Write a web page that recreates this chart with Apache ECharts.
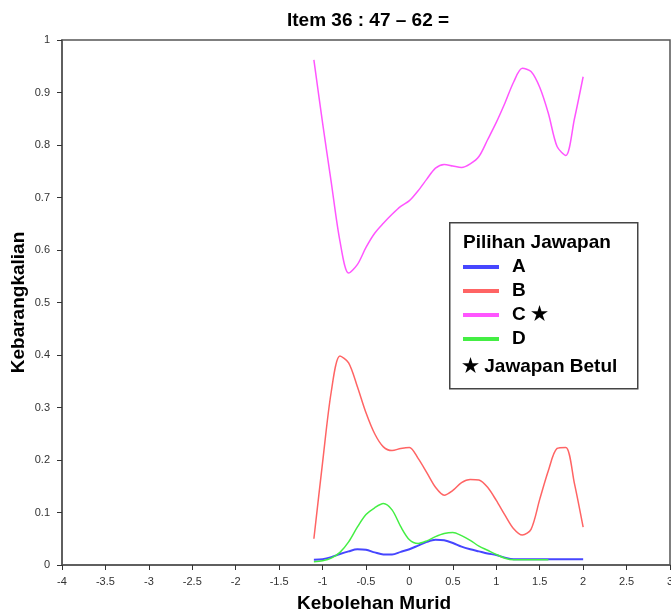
<!DOCTYPE html>
<html>
<head>
<meta charset="utf-8">
<script src="https://cdn.jsdelivr.net/npm/echarts@6/dist/echarts.min.js"></script>
<style>
  html, body { margin: 0; padding: 0; background: #fff; }
  #chart { width: 671px; height: 610px; }
</style>
</head>
<body>
<div id="chart"></div>
<script>
// kebolehan murid (theta) points
const xs = [-1.1, -1.0, -0.9, -0.8, -0.7, -0.6, -0.5, -0.4, -0.3, -0.2, -0.1, 0.0,
            0.1, 0.2, 0.3, 0.4, 0.5, 0.6, 0.7, 0.8, 0.9, 1.0, 1.1, 1.2,
            1.3, 1.4, 1.5, 1.6, 1.7, 1.8, 1.9, 2.0];

const seriesA = [0.010, 0.011, 0.015, 0.021, 0.026, 0.030, 0.029, 0.024, 0.020, 0.020, 0.025, 0.030,
                 0.037, 0.044, 0.048, 0.047, 0.042, 0.035, 0.030, 0.026, 0.022, 0.019, 0.014, 0.011,
                 0.011, 0.011, 0.011, 0.011, 0.011, 0.011, 0.011, 0.011];
const seriesB = [0.050, 0.195, 0.330, 0.398, 0.385, 0.340, 0.290, 0.250, 0.225, 0.218, 0.222, 0.224,
                 0.203, 0.176, 0.148, 0.133, 0.142, 0.157, 0.163, 0.162, 0.148, 0.123, 0.095, 0.069,
                 0.057, 0.068, 0.125, 0.180, 0.222, 0.224, 0.155, 0.072];
const seriesC = [0.962, 0.842, 0.729, 0.617, 0.556, 0.572, 0.605, 0.632, 0.651, 0.668, 0.683, 0.694,
                 0.713, 0.735, 0.756, 0.763, 0.760, 0.757, 0.764, 0.778, 0.810, 0.843, 0.880, 0.920,
                 0.946, 0.940, 0.910, 0.860, 0.797, 0.780, 0.850, 0.930];
const seriesD = [0.006, 0.008, 0.013, 0.024, 0.044, 0.072, 0.096, 0.109, 0.117, 0.105, 0.073, 0.048,
                 0.041, 0.046, 0.054, 0.060, 0.062, 0.056, 0.047, 0.036, 0.028, 0.020, 0.013, 0.010,
                 0.010, 0.010, 0.010, 0.010, null, null, null, null];

const names = ['A', 'B', 'C \u2605', 'D'];
const colors = ['#4646ff', '#ff6464', '#ff55ff', '#44ee44'];

const pairs = ys => xs.map((x, i) => [x, ys[i]]);

const chart = echarts.init(document.getElementById('chart'));
const font = 'Liberation Sans, Arial, sans-serif';

const makeLine = (idx, data, width) => ({
    name: names[idx],
    type: 'line',
    data: pairs(data),
    smooth: 0.3,
    showSymbol: false,
    symbol: 'none',
    connectNulls: false,
    color: colors[idx],
    lineStyle: { color: colors[idx], width: width },
    silent: true
});

chart.setOption({
    backgroundColor: '#fff',
    animation: false,
    title: {
        text: 'Item 36 : 47 \u2013 62 =',
        left: 287,
        top: 11,
        padding: 0,
        textStyle: { fontFamily: font, fontSize: 19, fontWeight: 'bold', color: '#000' }
    },
    legend: {
        data: names,
        orient: 'vertical',
        left: 463,
        top: 257,
        z: 100,
        padding: 0,
        itemWidth: 36,
        itemHeight: 4,
        itemGap: 4,
        icon: 'rect',
        textStyle: {
            fontFamily: font, fontSize: 19, fontWeight: 'bold', color: '#000',
            lineHeight: 20, padding: [0, 0, 0, 8]
        }
    },
    grid: {
        left: 62, right: 1, top: 40, bottom: 45,
        outerBoundsMode: 'none',
        containLabel: false,
        show: true, borderColor: '#555', borderWidth: 1.5, backgroundColor: '#fff'
    },
    xAxis: {
        type: 'value',
        min: -4, max: 3, interval: 0.5,
        name: 'Kebolehan Murid',
        nameLocation: 'middle',
        nameGap: 29,
        nameTextStyle: { fontFamily: font, fontSize: 19, fontWeight: 'bold', color: '#000', padding: [0, 0, 0, 16] },
        axisLine: { onZero: false, lineStyle: { color: '#555', width: 1.5 } },
        axisTick: { length: 5, lineStyle: { color: '#333' } },
        axisLabel: { fontFamily: font, fontSize: 11, color: '#333', margin: 11 },
        splitLine: { show: false }
    },
    yAxis: {
        type: 'value',
        min: 0, max: 1, interval: 0.1,
        name: 'Kebarangkalian',
        nameLocation: 'middle',
        nameGap: 34,
        nameMoveOverlap: false,
        nameTextStyle: { fontFamily: font, fontSize: 19, fontWeight: 'bold', color: '#000' },
        axisLine: { show: true, onZero: false, lineStyle: { color: '#555', width: 1.5 } },
        axisTick: { show: true, length: 5, lineStyle: { color: '#333' } },
        axisLabel: { fontFamily: font, fontSize: 11, color: '#333', margin: 12 },
        splitLine: { show: false }
    },
    graphic: [
        {
            type: 'rect', left: 449, top: 222, z: 50,
            shape: { width: 188, height: 166 },
            style: { fill: '#fff', stroke: '#444', lineWidth: 1.5 }
        },
        {
            type: 'text', left: 463, top: 233, z: 60,
            style: { text: 'Pilihan Jawapan', fill: '#000', font: 'bold 19px ' + font }
        },
        {
            type: 'text', left: 462, top: 357, z: 60,
            style: { text: '\u2605 Jawapan Betul', fill: '#000', font: 'bold 19px ' + font }
        }
    ],
    series: [
        makeLine(0, seriesA, 2),
        makeLine(1, seriesB, 1.5),
        makeLine(2, seriesC, 1.5),
        makeLine(3, seriesD, 1.5)
    ]
});
</script>
</body>
</html>
